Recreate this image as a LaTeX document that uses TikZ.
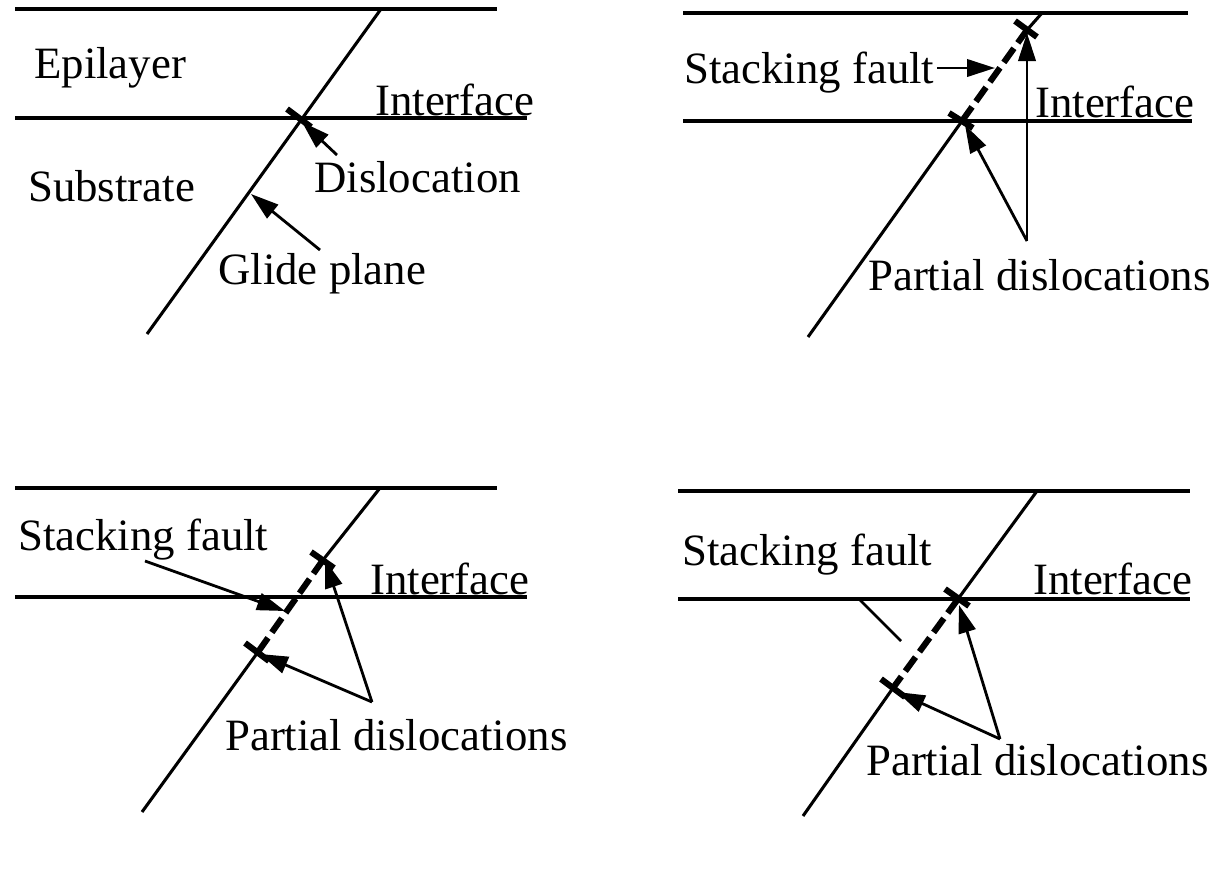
\documentclass[tikz,border=0pt]{standalone}
\usepackage{fontspec}
\setmainfont{Liberation Serif}
\usetikzlibrary{arrows.meta}
\tikzset{
  x=0.75pt,y=-0.75pt,
  rule/.style={line width=2.7pt},
  plane/.style={line width=2.3pt},
  fault/.style={line width=4.6pt,dash pattern=on 13pt off 5pt},
  tick/.style={line width=4.6pt},
  pointer/.style={line width=2.1pt,-{Triangle[length=21pt,width=13pt]}},
  leader/.style={line width=2.1pt},
  lbl/.style={anchor=base west,inner sep=0pt,font=\fontsize{33.6pt}{38pt}\selectfont},
}
\begin{document}
\begin{tikzpicture}
\useasboundingbox (0,0) rectangle (1215,896);
% ---- top left
\coordinate (a1) at (15,9); \coordinate (a2) at (497,9);
\coordinate (a3) at (15,118); \coordinate (a4) at (527,118);
\coordinate (a5) at (147,334); \coordinate (a6) at (381,9);
\coordinate (at1) at (287,109); \coordinate (at2) at (311,127);
\coordinate (ap1) at (337,155); \coordinate (ap2) at (302,122);
\coordinate (ag1) at (320,250); \coordinate (ag2) at (251,194);
\draw[rule] (a1) -- (a2); \draw[rule] (a3) -- (a4);
\draw[plane] (a5) -- (a6);
\draw[tick] (at1) -- (at2);
\draw[pointer] (ap1) -- (ap2);
\draw[pointer] (ag1) -- (ag2);
\node[lbl] (epi) at (34,78) {Epilayer};
\node[lbl] (ifa) at (375,115) {Interface};
\node[lbl] (dis) at (314,192) {Dislocation};
\node[lbl] (sub) at (28,201) {Substrate};
\node[lbl] (gli) at (218,284) {Glide plane};
% ---- top right
\coordinate (b1) at (683,13); \coordinate (b2) at (1188,13);
\coordinate (b3) at (683,121); \coordinate (b4) at (1192,121);
\coordinate (b5) at (808,337); \coordinate (b6) at (962,121);
\coordinate (b7) at (1027,30); \coordinate (b8) at (1042,13);
\coordinate (bt1) at (949,113); \coordinate (bt2) at (973,128);
\coordinate (bt3) at (1015,21); \coordinate (bt4) at (1037,37);
\coordinate (bs1) at (937,68); \coordinate (bs2) at (995,68);
\coordinate (bp) at (1027,241);
\coordinate (bq1) at (1027,33); \coordinate (bq2) at (965,125);
\draw[rule] (b1) -- (b2); \draw[rule] (b3) -- (b4);
\draw[plane] (b5) -- (b6); \draw[plane] (b7) -- (b8);
\draw[fault] (b6) -- (b7);
\draw[tick] (bt1) -- (bt2); \draw[tick] (bt3) -- (bt4);
\draw[pointer] (bs1) -- (bs2);
\draw[pointer] (bp) -- (bq1);
\draw[pointer] (bp) -- (bq2);
\node[lbl] (bsf) at (684,83) {Stacking fault};
\node[lbl] (bif) at (1035,117) {Interface};
\node[lbl] (bpd) at (868,290) {Partial dislocations};
% ---- bottom left
\coordinate (c1) at (15,488); \coordinate (c2) at (497,488);
\coordinate (c3) at (15,597); \coordinate (c4) at (527,597);
\coordinate (c5) at (142,812); \coordinate (c6) at (258,652);
\coordinate (c7) at (323,560); \coordinate (c8) at (380,488);
\coordinate (ct1) at (245,643); \coordinate (ct2) at (269,661);
\coordinate (ct3) at (311,552); \coordinate (ct4) at (334,568);
\coordinate (cs1) at (145,561); \coordinate (cs2) at (285,611);
\coordinate (cp) at (372,702);
\coordinate (cq1) at (325,560); \coordinate (cq2) at (260,654);
\draw[rule] (c1) -- (c2); \draw[rule] (c3) -- (c4);
\draw[plane] (c5) -- (c6); \draw[plane] (c7) -- (c8);
\draw[fault] (c6) -- (c7);
\draw[tick] (ct1) -- (ct2); \draw[tick] (ct3) -- (ct4);
\draw[pointer] (cs1) -- (cs2);
\draw[pointer] (cp) -- (cq1);
\draw[pointer] (cp) -- (cq2);
\node[lbl] (csf) at (18,550) {Stacking fault};
\node[lbl] (cif) at (370,594) {Interface};
\node[lbl] (cpd) at (225,750) {Partial dislocations};
% ---- bottom right
\coordinate (d1) at (678,491); \coordinate (d2) at (1190,491);
\coordinate (d3) at (678,599); \coordinate (d4) at (1190,599);
\coordinate (d5) at (803,816); \coordinate (d6) at (893,688);
\coordinate (d7) at (958,599); \coordinate (d8) at (1037,491);
\coordinate (dt1) at (881,679); \coordinate (dt2) at (905,697);
\coordinate (dt3) at (945,589); \coordinate (dt4) at (969,606);
\coordinate (ds1) at (860,600); \coordinate (ds2) at (901,641);
\coordinate (dp) at (1000,739);
\coordinate (dq1) at (959,605); \coordinate (dq2) at (897,692);
\draw[rule] (d1) -- (d2); \draw[rule] (d3) -- (d4);
\draw[plane] (d5) -- (d6); \draw[plane] (d7) -- (d8);
\draw[fault] (d7) -- (d6);
\draw[tick] (dt1) -- (dt2); \draw[tick] (dt3) -- (dt4);
\draw[leader] (ds1) -- (ds2);
\draw[pointer] (dp) -- (dq1);
\draw[pointer] (dp) -- (dq2);
\node[lbl] (dsf) at (682,565) {Stacking fault};
\node[lbl] (dif) at (1033,594) {Interface};
\node[lbl] (dpd) at (866,775) {Partial dislocations};
\end{tikzpicture}
\end{document}
